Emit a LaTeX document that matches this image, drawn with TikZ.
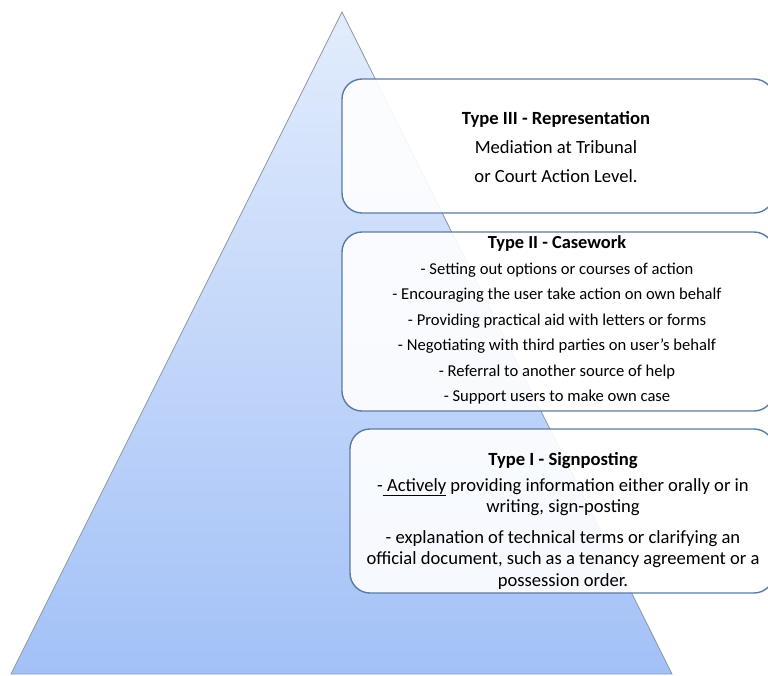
\documentclass[tikz,border=0pt]{standalone}
\usepackage{fontspec}
\setmainfont{Carlito}
\definecolor{tritop}{HTML}{E2ECFC}
\definecolor{tribot}{HTML}{A3C1F7}
\definecolor{triedge}{HTML}{8C96A4}
\definecolor{boxedge}{HTML}{5B7BA3}
\tikzset{
  levelbox/.style={draw=boxedge, line width=1.4pt, rounded corners=20pt,
    fill=white, fill opacity=0.9, rectangle, inner sep=0pt},
  boxtext/.style={align=center, inner sep=0pt, text=black, text opacity=1}
}
\begin{document}
\begin{tikzpicture}[x=1pt,y=-1pt]
\useasboundingbox (0,0) rectangle (768,675);
\clip (0,0) rectangle (768,675);
\coordinate (apex) at (342,12);
\coordinate (bl) at (11,674);
\coordinate (br) at (672,674);
\shade[top color=tritop, bottom color=tribot, draw=triedge, line width=0.8pt]
  (apex) -- (br) -- (bl) -- cycle;
% boxes
\node[levelbox, minimum width=432pt, minimum height=134pt] (box3) at (558,146) {};
\node[levelbox, minimum width=432pt, minimum height=179pt] (box2) at (558,321.5) {};
\node[levelbox, minimum width=424pt, minimum height=164pt] (box1) at (562,511) {};
% texts
\node[boxtext, font=\fontsize{18.6}{29}\selectfont] (t3) at (556,147)
  {\textbf{Type III - Representation}\\Mediation at Tribunal\\or Court Action Level.};
\node[boxtext, font=\fontsize{16.6}{25.5}\selectfont] (t2) at (557,320)
  {{\fontsize{18.4}{25.5}\selectfont\textbf{Type II - Casework}}\\- Setting out options or courses of action\\- Encouraging the user take action on own behalf\\- Providing practical aid with letters or forms\\- Negotiating with third parties on user’s behalf\\- Referral to another source of help\\- Support users to make own case};
\node[boxtext, font=\fontsize{18.6}{21.5}\selectfont] (t1) at (563,521)
  {\textbf{Type I - Signposting}\\[4pt]-\underline{\ Actively} providing information either orally or in\\writing, sign-posting\\[9pt]- explanation of technical terms or clarifying an\\official document, such as a tenancy agreement or a\\possession order.};
\end{tikzpicture}
\end{document}
